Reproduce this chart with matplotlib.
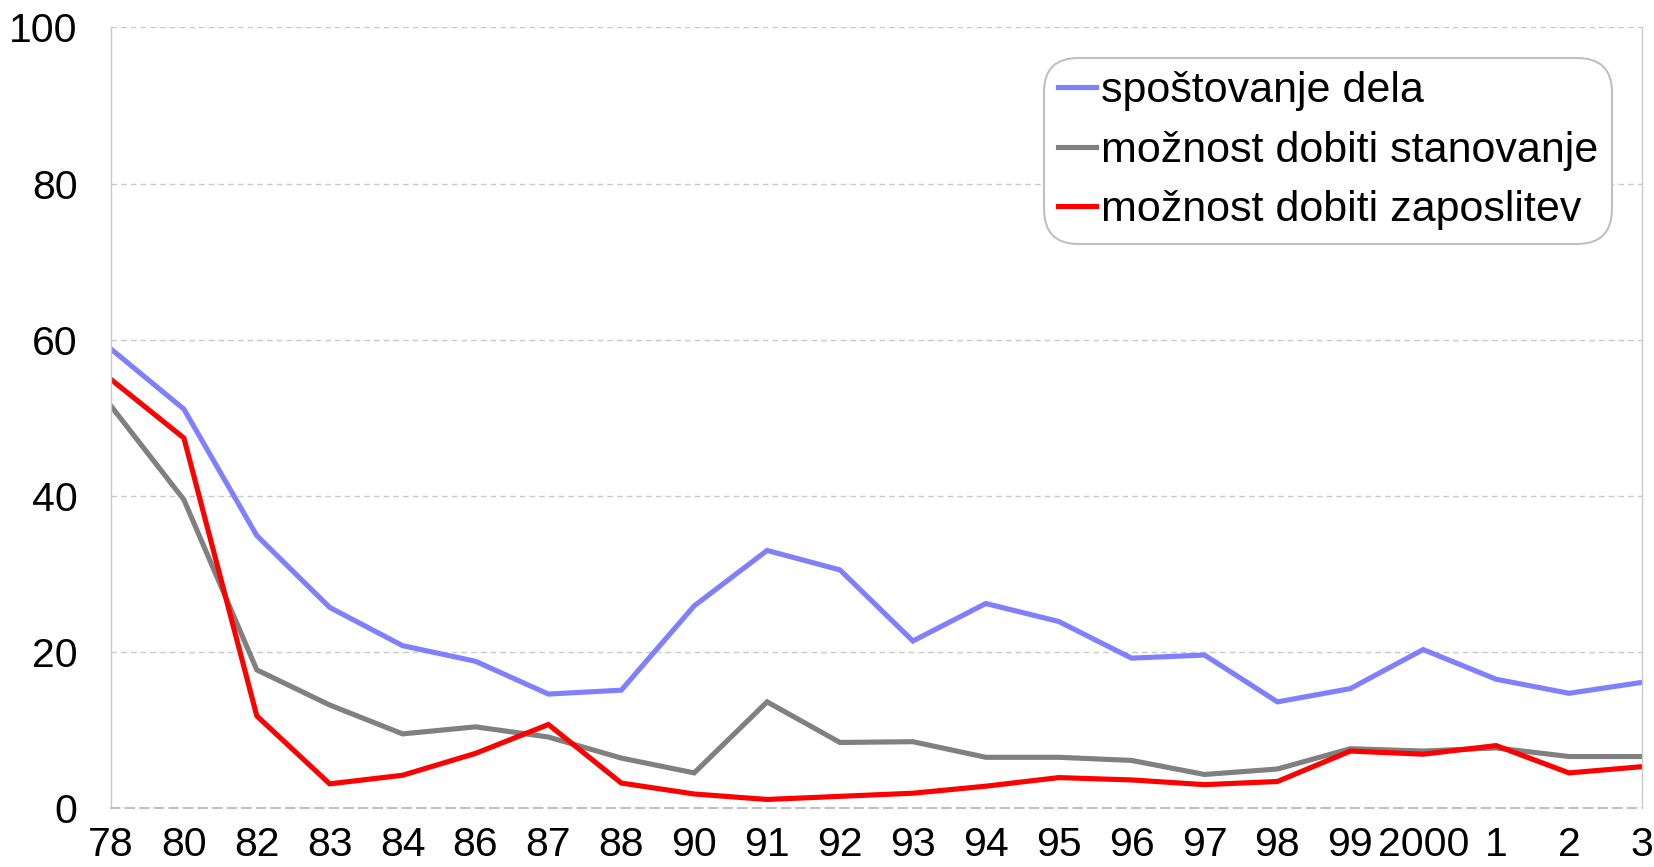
import matplotlib
matplotlib.use("Agg")
import matplotlib.pyplot as plt

plt.rcParams['font.family'] = ['Liberation Sans', 'DejaVu Sans']

years = ["78", "80", "82", "83", "84", "86", "87", "88", "90", "91", "92", "93",
         "94", "95", "96", "97", "98", "99", "2000", "1", "2", "3"]
spostovanje = [58.8, 51.1, 34.9, 25.7, 20.8, 18.8, 14.6, 15.1, 25.9, 33.0, 30.5, 21.4,
               26.2, 23.9, 19.2, 19.6, 13.6, 15.3, 20.3, 16.5, 14.7, 16.1]
stanovanje = [51.5, 39.5, 17.7, 13.2, 9.5, 10.4, 9.1, 6.4, 4.5, 13.6, 8.4, 8.5,
              6.5, 6.5, 6.1, 4.3, 5.0, 7.6, 7.3, 7.7, 6.6, 6.6]
zaposlitev = [54.9, 47.4, 11.8, 3.1, 4.2, 7.0, 10.7, 3.2, 1.8, 1.1, 1.5, 1.9,
              2.8, 3.9, 3.6, 3.0, 3.4, 7.3, 6.9, 8.0, 4.5, 5.3]
labels = ["spoštovanje dela", "možnost dobiti stanovanje", "možnost dobiti zaposlitev"]
colors = ["#8080FF", "#808080", "#FF0000"]

fig = plt.figure(figsize=(16.54, 8.67), dpi=100)
ax = fig.add_axes([0.0671, 0.068, 0.9256, 0.9004])

x = list(range(len(years)))
for vals, lab, col in zip([spostovanje, stanovanje, zaposlitev], labels, colors):
    ax.plot(x, vals, color=col, lw=3.7, label=lab, solid_joinstyle='miter')

ax.set_xlim(0, len(years) - 1)
ax.set_ylim(0, 100)
ax.set_yticks([0, 20, 40, 60, 80, 100])
ax.set_xticks(x)
ax.set_xticklabels(years)
ax.tick_params(axis='both', length=0, labelsize=29.5)
ax.tick_params(axis='x', pad=13)
ax.tick_params(axis='y', pad=24)
ax.grid(axis='y', color='#C8C8C8', linestyle=(0, (4, 3)), lw=1.0)
ax.set_axisbelow(True)
for s in ['left', 'right']:
    ax.spines[s].set_color('#C8C8C8')
    ax.spines[s].set_linewidth(1.0)
ax.spines['top'].set_visible(False)
ax.spines['bottom'].set_color('#C0C0C0')
ax.spines['bottom'].set_linestyle((0, (4, 3)))
ax.spines['bottom'].set_linewidth(1.5)

leg = ax.legend(loc='upper right', fontsize=31, handlelength=0.9, handletextpad=0.1,
                labelspacing=0.45, borderaxespad=0.7, borderpad=0.32,
                fancybox=True, framealpha=1, edgecolor='#C0C0C0')
leg.get_frame().set_linewidth(1.5)
leg.get_frame().set_boxstyle('round,pad=0.0,rounding_size=0.8')

fig.savefig("out.png", dpi=100)
